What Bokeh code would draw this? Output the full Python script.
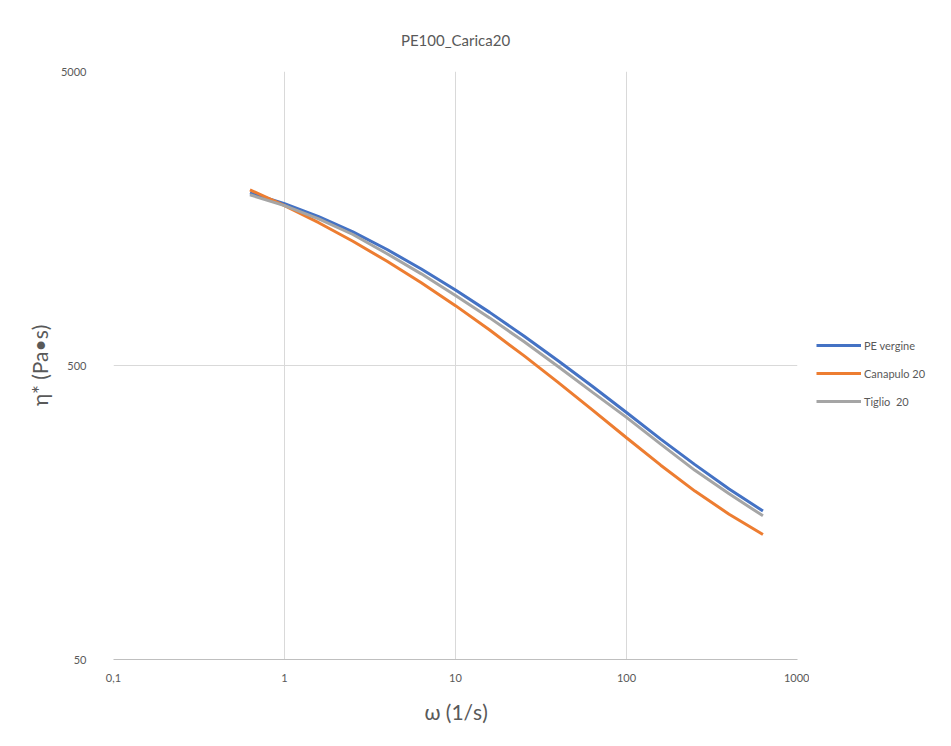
from bokeh.plotting import figure
from bokeh.models import FixedTicker, CustomJSTickFormatter, Legend, LegendItem
from bokeh.layouts import row
from bokeh.embed import file_html
from bokeh.resources import INLINE

# angular frequency (1/s)
omega = [0.628, 1.0, 1.585, 2.512, 3.981, 6.31, 10.0, 15.85, 25.12, 39.81,
         63.1, 100.0, 158.5, 251.2, 398.1, 628.0]
pe_vergine = [1933, 1776, 1605, 1424, 1240, 1065, 903, 758, 630, 519,
              425, 346, 281, 230, 190, 160]
canapulo_20 = [1980, 1748, 1530, 1323, 1131, 956, 799, 660, 540, 438,
               353, 284, 229, 187, 156, 133]
tiglio_20 = [1904, 1748, 1576, 1395, 1200, 1025, 865, 726, 603, 496,
             406, 333, 270, 220, 183, 154]

series = [pe_vergine, canapulo_20, tiglio_20]
series_names = ["PE vergine", "Canapulo 20", "Tiglio  20"]
series_colors = ["#4472C4", "#ED7D31", "#A5A5A5"]

x_ticks = [0.1, 1, 10, 100, 1000]
y_ticks = [50, 500, 5000]

FONT = "Lato"
TXT = "#595959"

p = figure(width=809, height=746,
           x_axis_type="log", y_axis_type="log",
           x_range=(0.1, 1000), y_range=(50, 5000),
           output_backend="svg", toolbar_location=None,
           min_border_left=113, min_border_right=12,
           min_border_top=71, min_border_bottom=87,
           title="PE100_Carica20")

p.title.align = "center"
p.title.text_font = FONT
p.title.text_font_size = "15px"
p.title.text_font_style = "normal"
p.title.text_color = TXT
p.title.standoff = 46

p.outline_line_color = None
p.background_fill_color = "white"
p.border_fill_color = "white"

p.xaxis.ticker = FixedTicker(ticks=x_ticks)
p.yaxis.ticker = FixedTicker(ticks=y_ticks)
fmt = CustomJSTickFormatter(code="""
    if (tick < 1) { return tick.toString().replace('.', ','); }
    return Math.round(tick).toString();
""")
p.xaxis.formatter = fmt
p.yaxis.formatter = fmt

for ax in (p.xaxis, p.yaxis):
    ax.major_tick_line_color = None
    ax.minor_tick_line_color = None
    ax.major_label_text_font = FONT
    ax.major_label_text_font_size = "11px"
    ax.major_label_text_color = TXT
    ax.axis_label_text_font = FONT
    ax.axis_label_text_font_size = "21px"
    ax.axis_label_text_font_style = "normal"
    ax.axis_label_text_color = TXT

p.xaxis.axis_line_color = "#bfbfbf"
p.yaxis.axis_line_color = None
p.xaxis.major_label_standoff = 8
p.yaxis.major_label_standoff = 21
p.xaxis.axis_label = "ω (1/s)"
p.yaxis.axis_label = "η* (Pa•s)"
p.xaxis.axis_label_standoff = 14
p.yaxis.axis_label_standoff = 6

p.xgrid.grid_line_color = "#d9d9d9"
p.ygrid.grid_line_color = "#d9d9d9"
p.xgrid.grid_line_width = 1
p.ygrid.grid_line_width = 1

for ys, c in zip(series, series_colors):
    p.line(omega, ys, line_color=c, line_width=3)

# legend panel on the right (separate figure so it is not clipped);
# its proxy lines use the same data but fall outside this panel's ranges
lg = figure(width=142, height=746, x_range=(0, 1), y_range=(0, 1),
            output_backend="svg", toolbar_location=None,
            x_axis_location=None, y_axis_location=None,
            min_border=0)
lg.outline_line_color = None
lg.xgrid.visible = False
lg.ygrid.visible = False
items = []
for ys, name, c in zip(series, series_names, series_colors):
    r = lg.line(omega, ys, line_color=c, line_width=3)
    items.append(LegendItem(label=name, renderers=[r]))

legend = Legend(items=items, location=(7, 248))
legend.border_line_color = None
legend.background_fill_alpha = 0
legend.label_text_font = FONT
legend.label_text_font_size = "11px"
legend.label_text_color = TXT
legend.glyph_width = 45
legend.glyph_height = 20
legend.label_height = 20
legend.spacing = 8
legend.label_standoff = 3
legend.margin = 0
legend.padding = 10
lg.add_layout(legend)

open("out.html", "w").write(file_html(row(p, lg), INLINE))
